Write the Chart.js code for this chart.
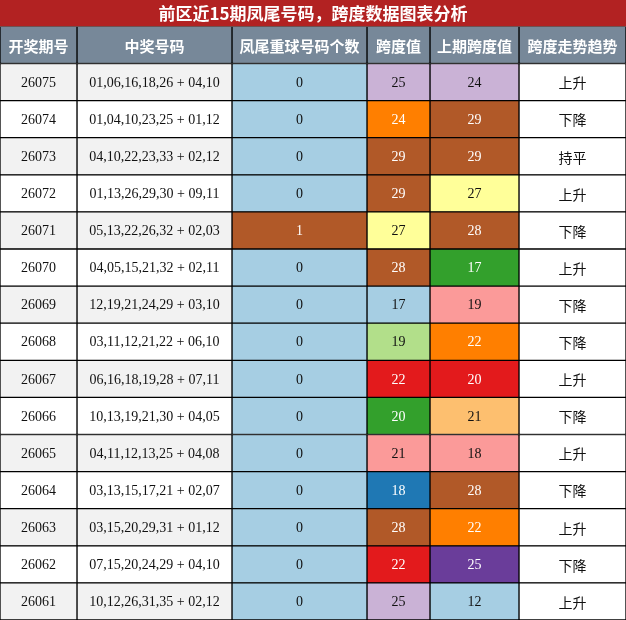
<!DOCTYPE html>
<html><head><meta charset="utf-8">
<script src="https://cdn.jsdelivr.net/npm/chart.js@4/dist/chart.umd.min.js"></script>
<style>html,body{margin:0;padding:0;background:#fff}#wrap{width:626px;height:620px}</style>
</head><body><div id="wrap"><canvas id="myChart"></canvas></div>
<script>
const headers = ["开奖期号","中奖号码","凤尾重球号码个数","跨度值","上期跨度值","跨度走势趋势"];
const colWidths = [77,155,135,63,89,107];
const periods = ["26075","26074","26073","26072","26071","26070","26069","26068","26067","26066","26065","26064","26063","26062","26061"];
const numbers = ["01,06,16,18,26 + 04,10","01,04,10,23,25 + 01,12","04,10,22,23,33 + 02,12","01,13,26,29,30 + 09,11","05,13,22,26,32 + 02,03","04,05,15,21,32 + 02,11","12,19,21,24,29 + 03,10","03,11,12,21,22 + 06,10","06,16,18,19,28 + 07,11","10,13,19,21,30 + 04,05","04,11,12,13,25 + 04,08","03,13,15,17,21 + 02,07","03,15,20,29,31 + 01,12","07,15,20,24,29 + 04,10","10,12,26,31,35 + 02,12"];
const repeatCount = [0,0,0,0,1,0,0,0,0,0,0,0,0,0,0];
const span = [25,24,29,29,27,28,17,19,22,20,21,18,28,22,25];
const prevSpan = [24,29,29,27,28,17,19,22,20,21,18,28,22,25,12];
const trend = ["上升","下降","持平","上升","下降","上升","下降","下降","上升","下降","上升","下降","上升","下降","上升"];
const repeatColors = ["#a6cee3","#a6cee3","#a6cee3","#a6cee3","#b15928","#a6cee3","#a6cee3","#a6cee3","#a6cee3","#a6cee3","#a6cee3","#a6cee3","#a6cee3","#a6cee3","#a6cee3"];
const spanColors = ["#cab2d6","#ff7f00","#b15928","#b15928","#ffff99","#b15928","#a6cee3","#b2df8a","#e31a1c","#33a02c","#fb9a99","#1f78b4","#b15928","#e31a1c","#cab2d6"];
const prevColors = ["#cab2d6","#b15928","#b15928","#ffff99","#b15928","#33a02c","#fb9a99","#ff7f00","#e31a1c","#fdbf6f","#fb9a99","#b15928","#ff7f00","#6a3d9a","#a6cee3"];

const dark = ["#b15928","#ff7f00","#33a02c","#e31a1c","#1f78b4","#6a3d9a"];
const rowLabels = ["header"].concat(periods);
const stripe = periods.map((p,i) => i%2==0 ? "#f2f2f2" : "#ffffff");
const cellText = [
  [headers[0]].concat(periods),
  [headers[1]].concat(numbers),
  [headers[2]].concat(repeatCount.map(String)),
  [headers[3]].concat(span.map(String)),
  [headers[4]].concat(prevSpan.map(String)),
  [headers[5]].concat(trend)
];
const cellBg = [
  ["#778899"].concat(stripe),
  ["#778899"].concat(stripe),
  ["#778899"].concat(repeatColors),
  ["#778899"].concat(spanColors),
  ["#778899"].concat(prevColors),
  ["#778899"].concat(periods.map(() => "#ffffff"))
];

const datasets = colWidths.map((w,c) => ({
  label: headers[c],
  data: rowLabels.map(() => w),
  backgroundColor: cellBg[c],
  borderColor: "#000",
  borderWidth: 1,
  borderSkipped: false,
  barPercentage: 1,
  categoryPercentage: 1
}));

const tablePlugin = {
  id: "tablePlugin",
  beforeDraw(chart) {
    const ctx = chart.ctx;
    ctx.save();
    ctx.fillStyle = "#b22222";
    ctx.fillRect(0, 0, chart.width, chart.chartArea.top);
    ctx.restore();
  },
  afterDatasetsDraw(chart) {
    const ctx = chart.ctx;
    ctx.save();
    ctx.textAlign = "center";
    ctx.textBaseline = "middle";
    chart.data.datasets.forEach((ds, c) => {
      chart.getDatasetMeta(c).data.forEach((bar, r) => {
        const x = (bar.base + bar.x) / 2;
        const bg = cellBg[c][r];
        if (r == 0) {
          ctx.fillStyle = "#fff";
          ctx.font = "bold 15px 'Noto Sans CJK SC', sans-serif";
        } else {
          ctx.fillStyle = dark.includes(bg) ? "#fff" : "#111";
          ctx.font = c == 5 ? "14px 'Noto Sans CJK SC', sans-serif" : "14px 'Liberation Serif', serif";
        }
        ctx.fillText(cellText[c][r], x, bar.y + 1);
      });
    });
    ctx.restore();
  }
};

new Chart(document.getElementById("myChart"), {
  type: "bar",
  data: { labels: rowLabels, datasets: datasets },
  options: {
    indexAxis: "y",
    responsive: true,
    maintainAspectRatio: false,
    animation: false,
    layout: { padding: 0 },
    scales: {
      x: { stacked: true, min: 0, max: 626, display: false },
      y: { stacked: true, display: false }
    },
    plugins: {
      legend: { display: false },
      tooltip: { enabled: false },
      title: {
        display: true,
        text: "前区近15期凤尾号码，跨度数据图表分析",
        color: "#fff",
        font: { size: 17, weight: "bold", family: "'Noto Sans CJK SC', sans-serif", lineHeight: 1.2 },
        padding: { top: 3, bottom: 3 }
      }
    }
  },
  plugins: [tablePlugin]
});
</script></body></html>
